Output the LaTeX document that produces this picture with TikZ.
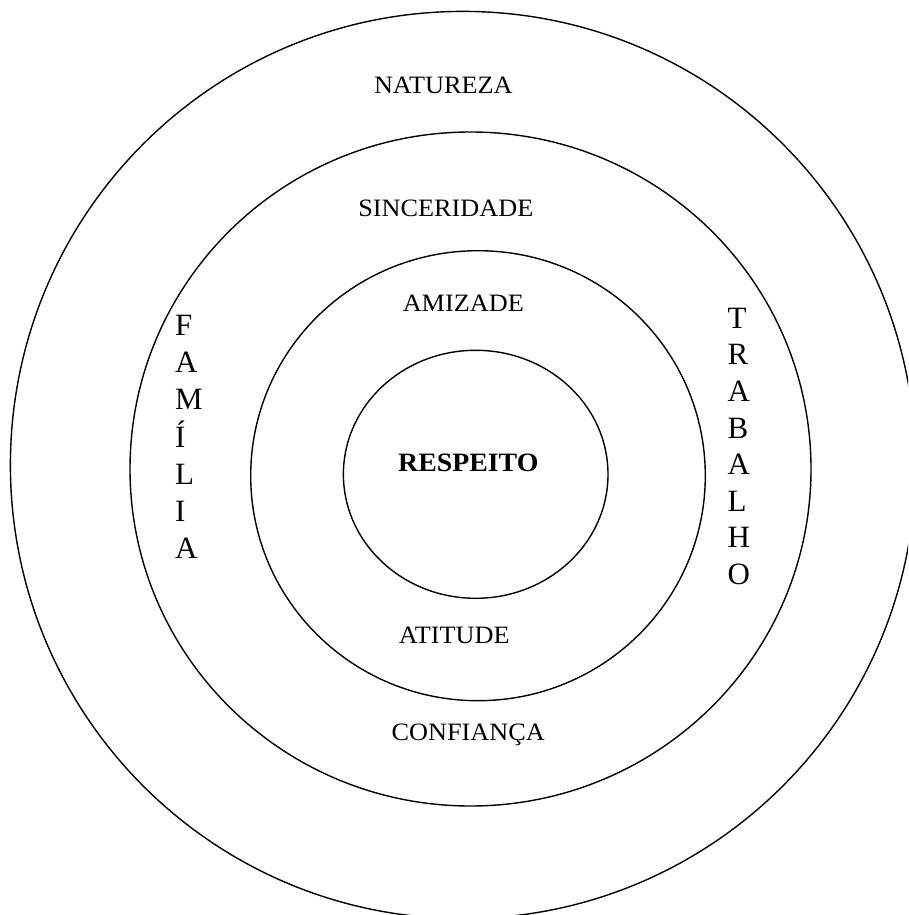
\documentclass[tikz,border=0pt]{standalone}
\usepackage{fontspec}
\setmainfont{Liberation Serif}[FakeStretch=1.05]
\newfontfamily\vletfont{Liberation Serif}
\begin{document}
\begin{tikzpicture}[x=1pt,y=-1pt,
  ring/.style={line width=1.4pt,draw=black},
  lbl/.style={inner sep=0pt,anchor=base,font=\fontsize{25}{30}\selectfont},
  vlet/.style={inner sep=0pt,anchor=base west,font=\vletfont\fontsize{31}{36}\selectfont},
  core/.style={inner sep=0pt,anchor=base,font=\fontsize{26.5}{31}\selectfont\bfseries}]
\useasboundingbox (0,0) rectangle (908,915);
\clip (0,0) rectangle (908,915);
% rings
\draw[ring] (463,465) ellipse [x radius=452.6, y radius=453.6];
\draw[ring] (470.5,469) ellipse [x radius=340.5, y radius=337];
\draw[ring] (478,475.7) ellipse [x radius=227.3, y radius=225];
\draw[ring] (475.7,474.3) ellipse [x radius=132.3, y radius=124];
% labels
\node[lbl] (natureza) at (443.3,93.3) {NATUREZA};
\node[lbl] (sinceridade) at (445.8,216.7) {SINCERIDADE};
\node[lbl] (amizade) at (463.3,311.7) {AMIZADE};
\node[core] (respeito) at (468.3,471) {RESPEITO};
\node[lbl] (atitude) at (454.2,643.3) {ATITUDE};
\node[lbl] (confianca) at (468.3,740) {CONFIANÇA};
% vertical words
\foreach \ch [count=\i from 0] in {F,A,M,Í,L,I,A}
  \node[vlet] (fam\i) at (175,335.7+37.1*\i) {\ch};
\foreach \ch [count=\i from 0] in {T,R,A,B,A,L,H,O}
  \node[vlet] (trab\i) at (727.5,328.3+36.6*\i) {\ch};
\end{tikzpicture}
\end{document}
